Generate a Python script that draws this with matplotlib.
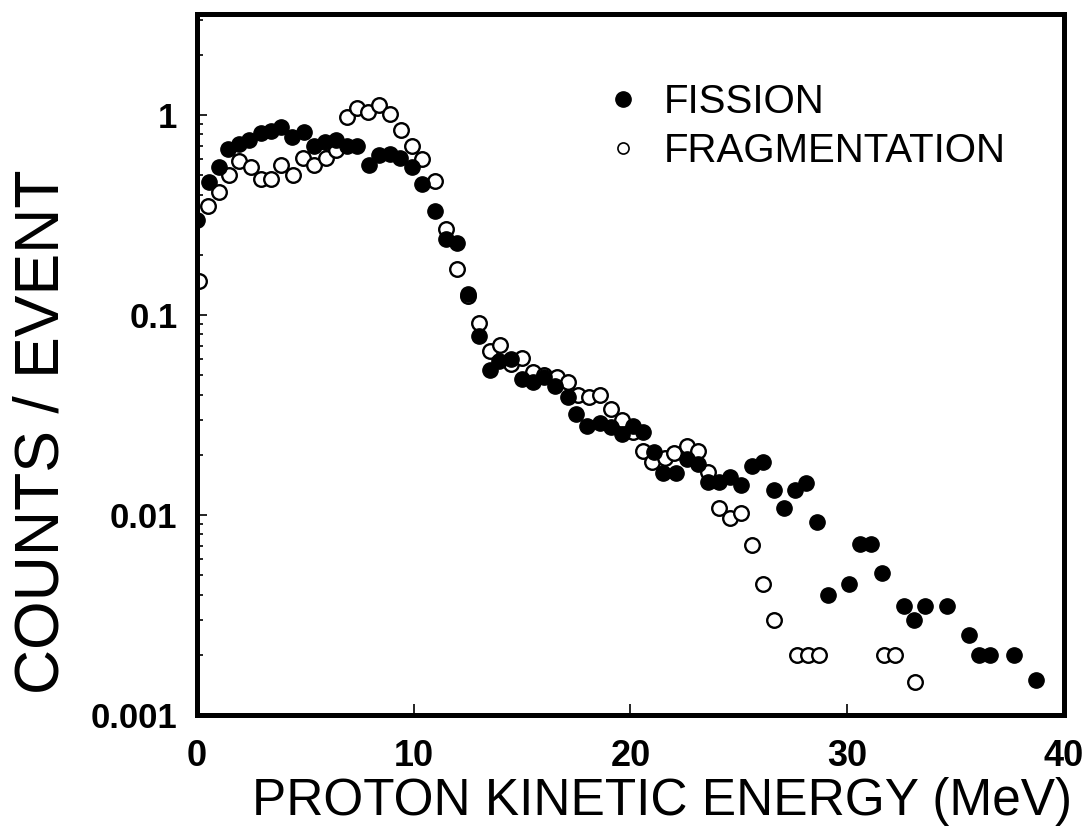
import numpy as np
import matplotlib
matplotlib.use("Agg")
import matplotlib.pyplot as plt
from matplotlib.lines import Line2D
from matplotlib.ticker import LogLocator, FixedLocator, NullFormatter

plt.rcParams["font.family"] = ["Liberation Sans", "DejaVu Sans"]

# ------------------------------------------------------------
# DATA
# ------------------------------------------------------------
fission_E = [0.0, 0.55, 1.0, 1.45, 1.95, 2.4, 2.95, 3.4, 3.9, 4.4, 4.95, 5.4,
             5.9, 6.4, 6.9, 7.4, 7.95, 8.4, 8.9, 9.35, 9.9, 10.4, 11.0, 11.5,
             12.0, 12.5, 13.0, 13.5, 13.95, 14.5, 15.0, 15.5, 16.0, 16.5, 17.1,
             17.5, 18.0, 18.6, 19.1, 19.6, 20.1, 20.6, 21.1, 21.5, 22.1, 22.6,
             23.1, 23.6, 24.1, 24.6, 25.1, 25.6, 26.1, 26.6, 27.1, 27.6, 28.1,
             28.6, 29.1, 30.1, 30.6, 31.1, 31.6, 32.6, 33.1, 33.6, 34.6, 35.6,
             36.1, 36.6, 37.7, 38.7]
fission_y = [0.30, 0.46, 0.55, 0.68, 0.72, 0.75, 0.81, 0.83, 0.87, 0.78, 0.82, 0.70,
             0.73, 0.75, 0.70, 0.70, 0.56, 0.63, 0.64, 0.61, 0.55, 0.45, 0.33, 0.24,
             0.23, 0.128, 0.0785, 0.053, 0.059, 0.060, 0.048, 0.046, 0.049, 0.044, 0.039,
             0.032, 0.028, 0.029, 0.0274, 0.0253, 0.0278, 0.026, 0.0207, 0.0163, 0.0163, 0.019,
             0.018, 0.0147, 0.0147, 0.0155, 0.0142, 0.0176, 0.0185, 0.0133, 0.0108, 0.0134, 0.0145,
             0.0092, 0.0040, 0.0045, 0.0072, 0.0072, 0.0051, 0.0035, 0.0030, 0.0035, 0.0035, 0.0025,
             0.0020, 0.0020, 0.0020, 0.0015]

frag_E = [0.1, 0.5, 1.0, 1.5, 1.95, 2.5, 2.95, 3.4, 3.9, 4.45, 4.9, 5.4, 5.95,
          6.4, 6.9, 7.4, 7.9, 8.4, 8.9, 9.4, 9.9, 10.4, 11.0, 11.5, 12.0, 12.5,
          13.0, 13.5, 14.0, 14.5, 15.0, 15.5, 16.0, 16.6, 17.1, 17.6, 18.1, 18.6,
          19.1, 19.6, 20.1, 20.6, 21.0, 21.6, 22.0, 22.6, 23.1, 23.6, 24.1, 24.6,
          25.1, 25.6, 26.1, 26.6, 27.7, 28.2, 28.7, 31.7, 32.2, 33.15]
frag_y = [0.148, 0.35, 0.41, 0.50, 0.59, 0.55, 0.48, 0.48, 0.56, 0.50, 0.61, 0.56, 0.61,
          0.67, 0.98, 1.08, 1.03, 1.12, 1.01, 0.84, 0.70, 0.60, 0.47, 0.27, 0.17, 0.125,
          0.091, 0.066, 0.071, 0.057, 0.061, 0.052, 0.050, 0.049, 0.046, 0.040, 0.039, 0.040,
          0.034, 0.030, 0.026, 0.021, 0.0185, 0.0192, 0.0205, 0.0222, 0.021, 0.0165, 0.0108, 0.0097,
          0.0102, 0.0071, 0.0045, 0.0030, 0.0020, 0.0020, 0.0020, 0.0020, 0.0020, 0.00146]

x_ticks = [0, 10, 20, 30, 40]
y_ticks = [0.001, 0.01, 0.1, 1]
y_tick_labels = ["0.001", "0.01", "0.1", "1"]

# ------------------------------------------------------------
# PLOT
# ------------------------------------------------------------
fig = plt.figure(figsize=(10.87, 8.34), dpi=100)
ax = fig.add_axes([0.1812, 0.1427, 0.7976, 0.8405])

ax.plot(frag_E, frag_y, linestyle="none", marker="o", markersize=10.5,
        markerfacecolor="white", markeredgecolor="black", markeredgewidth=1.7)
ax.plot(fission_E, fission_y, linestyle="none", marker="o", markersize=11,
        markerfacecolor="black", markeredgecolor="black")

ax.set_yscale("log")
ax.set_xlim(0, 40)
ax.set_ylim(0.001, 3.2)

ax.xaxis.set_major_locator(FixedLocator(x_ticks))
ax.set_xticklabels([str(t) for t in x_ticks])
ax.yaxis.set_major_locator(FixedLocator(y_ticks))
ax.set_yticklabels(y_tick_labels)
ax.yaxis.set_minor_locator(LogLocator(base=10, subs=np.arange(2, 10)))
ax.yaxis.set_minor_formatter(NullFormatter())

ax.tick_params(axis="both", which="both", direction="in", top=False, right=False,
               width=1.2)
ax.tick_params(axis="y", which="major", length=7, pad=14, labelsize=25)
ax.tick_params(axis="y", which="minor", length=4)
ax.tick_params(axis="x", which="major", length=8, pad=17, labelsize=26)
for lab in ax.get_xticklabels() + ax.get_yticklabels():
    lab.set_fontweight("bold")

for sp in ax.spines.values():
    sp.set_linewidth(3.6)

ax.set_xlabel("PROTON KINETIC ENERGY (MeV)", fontsize=37, va="top")
ax.xaxis.set_label_coords(0.536, -0.088)
ax.set_ylabel("COUNTS / EVENT", fontsize=45)
ax.yaxis.set_label_coords(-0.145, 0.404)

handles = [
    Line2D([], [], linestyle="none", marker="o", markersize=11,
           markerfacecolor="black", markeredgecolor="black"),
    Line2D([], [], linestyle="none", marker="o", markersize=8,
           markerfacecolor="white", markeredgecolor="black", markeredgewidth=1.2),
]
ax.legend(handles, ["FISSION", "FRAGMENTATION"], loc="upper left",
          bbox_to_anchor=(0.45, 0.924), frameon=False, fontsize=29,
          handlelength=1.0, handletextpad=0.5, labelspacing=0.26, borderaxespad=0)

fig.savefig("out.png", dpi=100)
